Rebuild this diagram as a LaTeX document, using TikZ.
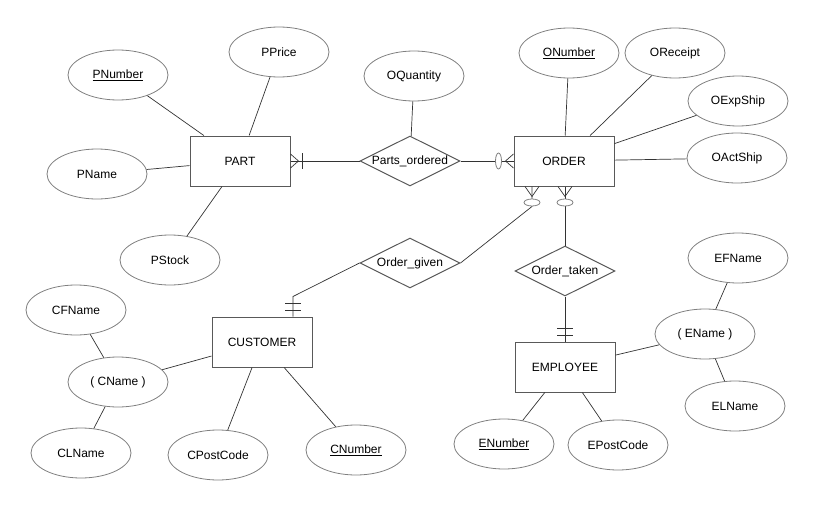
\documentclass[tikz,border=0pt]{standalone}
\usepackage{fontspec}
\setmainfont{Liberation Sans}
\usetikzlibrary{shapes.geometric}
\tikzset{
  entity/.style={draw=black!65, rectangle, line width=1pt, fill=white, minimum width=100pt, minimum height=50pt},
  relation/.style={draw=black!65, diamond, aspect=2, line width=1pt, fill=white, inner sep=0pt, minimum width=100pt, minimum height=50pt, text height=8pt, text depth=2pt},
  attrib/.style={draw=black!50, ellipse, line width=.8pt, fill=white, inner sep=0pt, minimum width=100pt, minimum height=50pt},
  erline/.style={draw=black!80, line width=.7pt},
  zeromark/.style={draw=black!50, line width=.8pt, fill=white}
}

\begin{document}
\begin{tikzpicture}[x=1pt, y=-1pt, font=\fontsize{12}{14}\selectfont]
    \useasboundingbox (0,0) rectangle (815,506);

    % entities
    \node[entity] (part) at (240,161) {PART};
    \node[entity] (order) at (564,161) {ORDER};
    \node[entity] (cust) at (262,342) {CUSTOMER};
    \node[entity] (emp) at (565,367) {EMPLOYEE};

    % relationships
    \node[relation] (po) at (410,161) {Parts\_ordered};
    \node[relation] (given) at (410,263) {Order\_given};
    \node[relation] (taken) at (565,271) {Order\_taken};

    % attributes
    \node[attrib] (pnum) at (118,75) {\underline{PNumber}};
    \node[attrib] (pprice) at (279,52) {PPrice};
    \node[attrib] (pname) at (97,174) {PName};
    \node[attrib] (pstock) at (170,260) {PStock};
    \node[attrib] (oqty) at (414,76) {OQuantity};
    \node[attrib] (onum) at (569,53) {\underline{ONumber}};
    \node[attrib] (orec) at (675,53) {OReceipt};
    \node[attrib] (oexp) at (738,101) {OExpShip};
    \node[attrib] (oact) at (737,158) {OActShip};
    \node[attrib] (cfname) at (76,310) {CFName};
    \node[attrib] (cname) at (118,382) {( CName )};
    \node[attrib] (clname) at (81,453) {CLName};
    \node[attrib] (cpost) at (218,455) {CPostCode};
    \node[attrib] (cnum) at (356,450) {\underline{CNumber}};
    \node[attrib] (efname) at (738,258) {EFName};
    \node[attrib] (ename) at (705,334) {( EName )};
    \node[attrib] (elname) at (735,406) {ELName};
    \node[attrib] (enum) at (504,444) {\underline{ENumber}};
    \node[attrib] (epost) at (618,445) {EPostCode};

    \draw[erline] (pnum) -- (part);
    \draw[erline] (pprice) -- (part);
    \draw[erline] (pname) -- (part);
    \draw[erline] (pstock) -- (part);
    \draw[erline] (oqty) -- (po);
    \draw[erline] (onum) -- (order);
    \draw[erline] (orec) -- (order);
    \draw[erline] (oexp) -- (order);
    \draw[erline] (oact) -- (order);
    \draw[erline] (cfname) -- (cname);
    \draw[erline] (clname) -- (cname);
    \draw[erline] (cname) -- (cust);
    \draw[erline] (cpost) -- (cust);
    \draw[erline] (cnum) -- (cust);
    \draw[erline] (efname) -- (ename);
    \draw[erline] (elname) -- (ename);
    \draw[erline] (ename) -- (emp);
    \draw[erline] (enum) -- (emp);
    \draw[erline] (epost) -- (emp);

    % PART -- Parts_ordered -- ORDER
    \draw[erline] (part.east) -- (po.west);
    \draw[erline] (po.east) -- (order.west);
    \draw[erline] (part.east) ++(0,-7) -- ++(8,7) -- ++(-8,7); % crow foot
    \draw[erline] (part.east) ++(12,-8) -- ++(0,16);
    \draw[erline] (order.west) ++(0,-7) -- ++(-8,7) -- ++(8,7); % crow foot
    \draw[zeromark] (order.west) ++(-15,0) ellipse [x radius=3, y radius=8];

    % ORDER -- Order_given -- CUSTOMER
    \coordinate (og) at ([xshift=-32pt]order.south);
    \coordinate (cg) at ([xshift=31pt]cust.north);
    \draw[erline] (og) -- ++(0,20) -- (given.east);
    \draw[erline] (cg) -- ++(0,-20) -- (given.west);
    \draw[erline] (og) ++(-7,0) -- ++(7,10) -- ++(7,-10); % crow foot
    \draw[zeromark] (og) ++(0,16) ellipse [x radius=8, y radius=3.5];
    \draw[erline] (cg) ++(-8,-6) -- ++(16,0);
    \draw[erline] (cg) ++(-8,-13) -- ++(16,0);

    % ORDER -- Order_taken -- EMPLOYEE
    \coordinate (ot) at (taken.north |- order.south);
    \draw[erline] (ot) -- (taken.north);
    \draw[erline] (taken.south) -- (emp.north);
    \draw[erline] (ot) ++(-7,0) -- ++(7,10) -- ++(7,-10); % crow foot
    \draw[zeromark] (ot) ++(0,16) ellipse [x radius=8, y radius=3.5];
    \draw[erline] (emp.north) ++(-8,-6) -- ++(16,0);
    \draw[erline] (emp.north) ++(-8,-13) -- ++(16,0);
\end{tikzpicture}
\end{document}
